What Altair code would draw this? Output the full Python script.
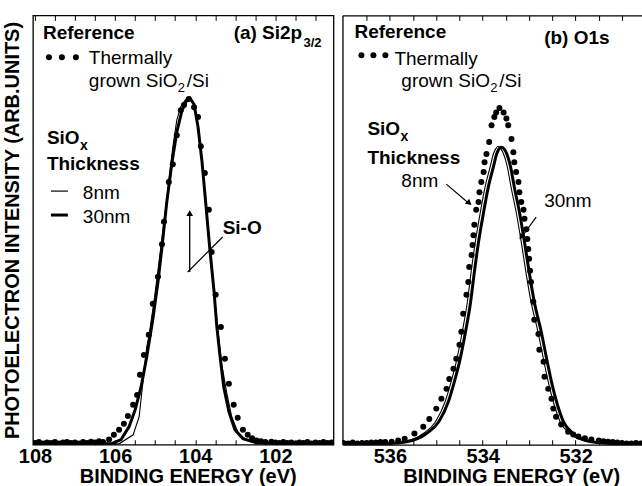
import altair as alt
import pandas as pd

FONT = "Liberation Sans"

# ---------------- Panel (a) Si2p3/2 ----------------
a_ref_E = [108.0, 107.9, 107.8, 107.7, 107.6, 107.5, 107.4, 107.3, 107.2, 107.1, 107.0, 106.9,
           106.8, 106.7, 106.6, 106.5, 106.4, 106.3,
           106.15, 106.03, 105.90, 105.78, 105.68, 105.55, 105.45, 105.38, 105.28, 105.16,
           105.06, 104.93, 104.83, 104.78, 104.66, 104.56, 104.46, 104.36, 104.28, 104.16,
           104.03, 103.93, 103.86, 103.76, 103.66, 103.59, 103.49, 103.36, 103.26, 103.16,
           103.04, 102.94, 102.81, 102.69,
           102.58, 102.47, 102.36, 102.25, 102.1, 102.0, 101.9, 101.8, 101.7, 101.6, 101.5,
           101.4, 101.3, 101.2, 101.1, 101.0, 100.9, 100.8, 100.7, 100.6]
a_ref_I = [0.004, 0.006, 0.003, 0.005, 0.004, 0.006, 0.003, 0.005, 0.006, 0.004, 0.005, 0.003,
           0.006, 0.004, 0.007, 0.005, 0.008, 0.006,
           0.012, 0.023, 0.035, 0.049, 0.067, 0.093, 0.116, 0.163, 0.209, 0.256,
           0.328, 0.391, 0.467, 0.519, 0.612, 0.653, 0.721, 0.779, 0.791, 0.805,
           0.786, 0.763, 0.695, 0.633, 0.547, 0.449, 0.349, 0.274, 0.200, 0.142,
           0.093, 0.063, 0.035, 0.023,
           0.015, 0.010, 0.008, 0.006, 0.007, 0.005, 0.004, 0.006, 0.004, 0.005, 0.003,
           0.005, 0.004, 0.006, 0.003, 0.005, 0.004, 0.006, 0.004, 0.005]

a_30_E = [108.05, 107.3, 106.6, 106.10, 105.85, 105.65, 105.50, 105.35, 105.21, 105.06, 104.93,
          104.83, 104.71, 104.58, 104.46, 104.33, 104.21, 104.13, 104.03, 103.93, 103.83,
          103.74, 103.64, 103.53, 103.46, 103.38, 103.29, 103.16, 103.01, 102.81, 102.49,
          101.8, 100.55]
a_30_I = [0.003, 0.004, 0.003, 0.002, 0.012, 0.042, 0.081, 0.135, 0.205, 0.291, 0.379,
          0.460, 0.565, 0.658, 0.728, 0.779, 0.802, 0.807, 0.793, 0.740, 0.658,
          0.565, 0.460, 0.356, 0.274, 0.205, 0.135, 0.077, 0.035, 0.014, 0.005,
          0.003, 0.003]

a_8_E = [108.05, 106.35, 105.90, 105.55, 105.40, 105.21, 105.16, 105.03, 104.91, 104.78,
         104.66, 104.56, 104.46, 104.36, 104.23, 104.13, 104.03, 103.93, 103.83, 103.74,
         103.64, 103.53, 103.43, 103.34, 103.21, 103.09, 102.94, 102.74, 102.42, 100.55]
a_8_I = [0.002, 0.002, 0.002, 0.023, 0.065, 0.228, 0.251, 0.333, 0.421, 0.519,
         0.612, 0.693, 0.756, 0.788, 0.805, 0.805, 0.791, 0.742, 0.658, 0.560,
         0.456, 0.351, 0.263, 0.188, 0.119, 0.065, 0.030, 0.012, 0.002, 0.002]

a_labels = [108, 106, 104, 102]
a_ticks = [101.0, 101.5, 102.0, 102.5, 103.0, 103.5, 104.0, 104.5, 105.0, 105.5,
           106.0, 106.5, 107.0, 107.5, 108.0]

# ---------------- Panel (b) O1s ----------------
b_ref_E = [537.0, 536.9, 536.8, 536.7, 536.6, 536.5, 536.4, 536.3, 536.2, 536.1,
           535.96, 535.82, 535.68, 535.47, 535.28, 535.15, 535.00, 534.89, 534.78, 534.72,
           534.63, 534.57, 534.50, 534.46, 534.42, 534.35, 534.31, 534.29, 534.24, 534.22,
           534.20, 534.18, 534.14, 534.09, 534.07, 534.03, 533.98, 533.96, 533.92, 533.86,
           533.81, 533.75, 533.71, 533.64, 533.55, 533.49, 533.45, 533.38, 533.34, 533.32,
           533.28, 533.23, 533.21, 533.17, 533.12, 533.10, 533.06, 533.04, 533.02, 533.00,
           532.98, 532.96, 532.91, 532.89, 532.80, 532.78, 532.69, 532.67, 532.59, 532.52,
           532.48, 532.42, 532.31, 532.16, 532.05, 531.94, 531.80, 531.66, 531.5, 531.4,
           531.3, 531.2, 531.1, 531.0, 530.9, 530.8, 530.7, 530.6]
b_ref_I = [0.004, 0.003, 0.005, 0.003, 0.004, 0.004, 0.005, 0.005, 0.006, 0.006,
           0.007, 0.010, 0.014, 0.026, 0.042, 0.060, 0.084, 0.107, 0.130, 0.153,
           0.177, 0.200, 0.233, 0.263, 0.305, 0.349, 0.379, 0.414, 0.442, 0.465,
           0.488, 0.512, 0.547, 0.565, 0.588, 0.612, 0.635, 0.658, 0.677, 0.705,
           0.744, 0.763, 0.774, 0.784, 0.774, 0.760, 0.744, 0.712, 0.681, 0.658,
           0.635, 0.612, 0.588, 0.565, 0.547, 0.526, 0.502, 0.479, 0.456, 0.433,
           0.405, 0.379, 0.333, 0.291, 0.258, 0.221, 0.193, 0.158, 0.130, 0.107,
           0.084, 0.065, 0.047, 0.030, 0.024, 0.019, 0.015, 0.012, 0.010, 0.008,
           0.007, 0.006, 0.005, 0.004, 0.003, 0.003, 0.004, 0.003]

b_30_E = [537.0, 536.6, 536.18, 535.64, 535.21, 534.95, 534.74, 534.61, 534.50, 534.37,
          534.26, 534.18, 534.09, 533.98, 533.88, 533.77, 533.70, 533.65, 533.60, 533.54,
          533.48, 533.40, 533.32, 533.21, 533.10, 533.00, 532.89, 532.74, 532.61, 532.52,
          532.41, 532.26, 532.05, 531.66, 531.12, 530.57]
b_30_I = [0.002, 0.002, 0.002, 0.007, 0.026, 0.053, 0.100, 0.147, 0.193, 0.263,
          0.333, 0.402, 0.472, 0.542, 0.600, 0.647, 0.677, 0.689, 0.693, 0.689,
          0.677, 0.647, 0.600, 0.542, 0.472, 0.402, 0.333, 0.263, 0.193, 0.147,
          0.100, 0.053, 0.026, 0.007, 0.002, 0.001]

b_8_E = [537.0, 536.6, 536.25, 535.71, 535.28, 535.02, 534.81, 534.68, 534.57, 534.44,
         534.33, 534.25, 534.16, 534.05, 533.95, 533.84, 533.77, 533.72, 533.67, 533.61,
         533.55, 533.47, 533.39, 533.28, 533.17, 533.07, 532.96, 532.81, 532.68, 532.59,
         532.48, 532.33, 532.12, 531.73, 531.19, 530.57]
b_8_I = [0.002, 0.002, 0.002, 0.007, 0.026, 0.053, 0.100, 0.147, 0.193, 0.263,
         0.333, 0.402, 0.472, 0.542, 0.600, 0.647, 0.677, 0.689, 0.695, 0.689,
         0.677, 0.647, 0.600, 0.542, 0.472, 0.402, 0.333, 0.263, 0.193, 0.147,
         0.100, 0.053, 0.026, 0.007, 0.002, 0.001]

b_labels = [536, 534, 532]
b_ticks = [531.0, 531.5, 532.0, 532.5, 533.0, 533.5, 534.0, 534.5, 535.0, 535.5,
           536.0, 536.5]


def df(E, I):
    return pd.DataFrame({"E": E, "I": I})


def txt(s, x, y, size=19, weight="normal", align="left"):
    return alt.Chart(pd.DataFrame({"t": [s]})).mark_text(
        font=FONT, fontSize=size, fontWeight=weight, align=align,
        baseline="alphabetic", color="black"
    ).encode(x=alt.value(x), y=alt.value(y), text="t:N")


def rule(x1, y1, x2, y2, w=1.2):
    return alt.Chart(pd.DataFrame({"k": [0]})).mark_rule(color="black", strokeWidth=w).encode(
        x=alt.value(x1), y=alt.value(y1), x2=alt.value(x2), y2=alt.value(y2))


def head(x, y, ang):
    return alt.Chart(pd.DataFrame({"k": [0]})).mark_point(
        shape="triangle-up", filled=True, size=45, color="black", opacity=1, angle=ang
    ).encode(x=alt.value(x), y=alt.value(y))


def dot(x, y):
    return alt.Chart(pd.DataFrame({"k": [0]})).mark_circle(size=36, color="black", opacity=1).encode(
        x=alt.value(x), y=alt.value(y))


def panel(ref, e8, e30, dom, labels, ticks, title_x, width, yaxis, show_domain, interp, ann):
    xs = alt.Scale(domain=dom, reverse=True, nice=False, zero=False)
    ys = alt.Scale(domain=[0, 1], nice=False, zero=False)
    main_axis = alt.Axis(
        orient="bottom", values=labels, format="d", labelFontSize=20, labelFontWeight="bold",
        labelFont=FONT, labelColor="black", labelPadding=2, labelFlush=False, ticks=False,
        domain=show_domain, domainColor="black", domainWidth=1.3, grid=False,
        title="BINDING ENERGY (eV)", titleFont=FONT, titleFontSize=20, titleFontWeight="bold",
        titleColor="black", titlePadding=0, titleX=title_x, minExtent=0)
    bot_ticks = alt.Axis(orient="bottom", offset=-5, values=ticks, ticks=True, tickSize=5,
                         tickColor="black", tickWidth=1, labels=False, domain=False, grid=False,
                         title=None, minExtent=0)
    top_ticks = alt.Axis(orient="top", offset=-5, values=ticks, ticks=True, tickSize=5,
                         tickColor="black", tickWidth=1, labels=False, domain=False, grid=False,
                         title=None, minExtent=0)
    dots = alt.Chart(df(*ref)).mark_circle(size=36, color="black", opacity=1, clip=True).encode(
        x=alt.X("E:Q", scale=xs, axis=main_axis), y=alt.Y("I:Q", scale=ys, axis=yaxis))
    thin = alt.Chart(df(*e8)).mark_line(color="black", strokeWidth=1.1, clip=True,
                                        interpolate=interp).encode(
        x=alt.X("E:Q", scale=xs, axis=bot_ticks), y=alt.Y("I:Q", scale=ys, axis=None))
    thick = alt.Chart(df(*e30)).mark_line(color="black", strokeWidth=3, clip=True,
                                          interpolate=interp).encode(
        x=alt.X("E:Q", scale=xs, axis=top_ticks), y=alt.Y("I:Q", scale=ys, axis=None))
    return alt.layer(dots, thin, thick, *ann).resolve_axis(
        x="independent", y="independent").properties(width=width, height=430)


ya = alt.Axis(orient="left", domain=False, ticks=False, labels=False, grid=False,
              title="PHOTOELECTRON INTENSITY (ARB.UNITS)", titleFont=FONT, titleFontSize=20,
              titleFontWeight="bold", titleColor="black", titlePadding=10, minExtent=0)
yb = alt.Axis(orient="left", domain=True, domainColor="black", domainWidth=1.3, ticks=False,
              labels=False, grid=True, gridColor="black", gridWidth=1.3, gridOpacity=1,
              values=[1.0], title=None, minExtent=0)

ann_a = [
    txt("Reference", 10, 24, weight="bold"),
    dot(16, 42), dot(29, 42), dot(43, 42),
    txt("Thermally", 56, 49),
    txt("grown SiO", 56, 72), txt("2", 145, 77, size=13), txt("/Si", 154, 72),
    txt("(a) Si2p", 201, 24, weight="bold"), txt("3/2", 271, 32, size=13, weight="bold"),
    txt("SiO", 14, 129, weight="bold"), txt("x", 47, 135, size=14, weight="bold"),
    txt("Thickness", 14, 155, weight="bold"),
    rule(18, 176, 35, 176, 1.2), txt("8nm", 50, 184),
    rule(18, 200, 35, 200, 3), txt("30nm", 50, 208),
    txt("Si-O", 190, 219, weight="bold"),
    rule(157, 257, 157, 200, 1.3), head(157, 198, 0),
    rule(155, 257, 190, 222, 1.2),
]

ann_b = [
    txt("Reference", 12, 23, weight="bold"),
    dot(19, 40), dot(31, 40), dot(43, 40),
    txt("Thermally", 52, 50),
    txt("grown SiO", 59, 72), txt("2", 148, 77, size=13), txt("/Si", 157, 72),
    txt("(b) O1s", 202, 29, weight="bold"),
    txt("SiO", 25, 120, weight="bold"), txt("x", 58, 126, size=14, weight="bold"),
    txt("Thickness", 25, 149, weight="bold"),
    txt("8nm", 59, 172),
    rule(104, 169, 125, 187, 1.2), head(127, 188, 130),
    txt("30nm", 202, 192),
    rule(194, 202, 181, 220, 1.2), head(179, 222, 216),
]

pa = panel((a_ref_E, a_ref_I), (a_8_E, a_8_I), (a_30_E, a_30_I), [100.55, 108.05],
           a_labels, a_ticks, 155, 301, ya, False, "linear", ann_a)
pb = panel((b_ref_E, b_ref_I), (b_8_E, b_8_I), (b_30_E, b_30_I), [530.57, 537.02],
           b_labels, b_ticks, 169, 300, yb, True, "monotone", ann_b).properties(
    view=alt.ViewBackground(strokeOpacity=0))

chart = alt.hconcat(pa, pb, spacing=8).properties(
    padding={"left": 2, "top": 13, "right": 0, "bottom": 0},
    background="white",
).configure_view(stroke="black", strokeWidth=1.3)

chart.save("out.html", embed_options={"renderer": "svg", "actions": False})
